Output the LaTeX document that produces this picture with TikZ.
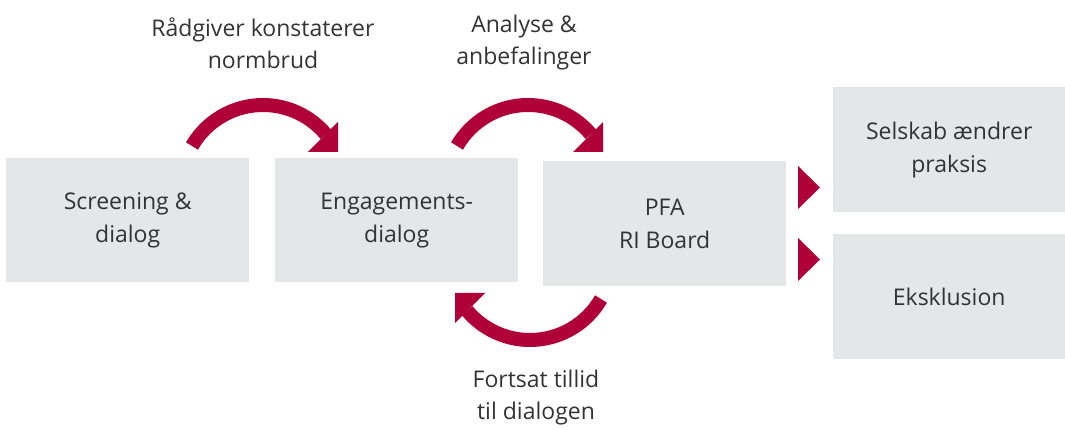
\documentclass[tikz,border=0pt]{standalone}
\usepackage{fontspec}
\setmainfont{Open Sans}
\definecolor{pfared}{HTML}{B0003A}
\definecolor{boxgray}{HTML}{E5E6E8}
\definecolor{txt}{HTML}{333333}
\begin{document}
\begin{tikzpicture}[x=1pt,y=1pt,
  box/.style={fill=boxgray, text=txt, align=center, inner sep=0pt, anchor=north west, font=\fontsize{23}{33}\selectfont},
  lbl/.style={text=txt, align=center, inner sep=0pt, font=\fontsize{23}{32}\selectfont},
  arcline/.style={draw=pfared, line width=14pt},
  headfill/.style={fill=pfared}]
\useasboundingbox (0,0) rectangle (1065,430);
% boxes
\node[box, minimum width=243pt, minimum height=124pt] (b1) at (6,272) {Screening \&\\dialog};
\node[box, minimum width=243pt, minimum height=124pt] (b2) at (275,272) {Engagements-\\dialog};
\node[box, minimum width=243pt, minimum height=125pt] (b3) at (543,269) {PFA\\RI Board};
\node[box, minimum width=232pt, minimum height=125pt] (b4) at (833,343) {Selskab ændrer\\praksis};
\node[box, minimum width=232pt, minimum height=125pt] (b5) at (833,196) {Eksklusion};
% labels
\node[lbl] (l1) at (263,387) {Rådgiver konstaterer\\normbrud};
\node[lbl] (l2) at (524,387) {Analyse \&\\anbefalinger};
\node[lbl] (l3) at (536,32) {Fortsat tillid\\til dialogen};
% arc arrows
\draw[arcline] (192,284) arc[start angle=150, end angle=40, radius=82pt];
\fill[headfill] (338,308) -- (338,278) -- (308,278) -- cycle;
\draw[arcline] (457,284) arc[start angle=150, end angle=40, radius=82pt];
\fill[headfill] (603,308) -- (603,278) -- (573,278) -- cycle;
\draw[arcline] (601,131) arc[start angle=-30, end angle=-140, radius=82pt];
\fill[headfill] (455,107) -- (455,137) -- (485,137) -- cycle;
% right triangles
\fill[headfill] (798,264) -- (798,221) -- (820,242.5) -- cycle;
\fill[headfill] (798,192) -- (798,149) -- (820,170.5) -- cycle;
\end{tikzpicture}
\end{document}
